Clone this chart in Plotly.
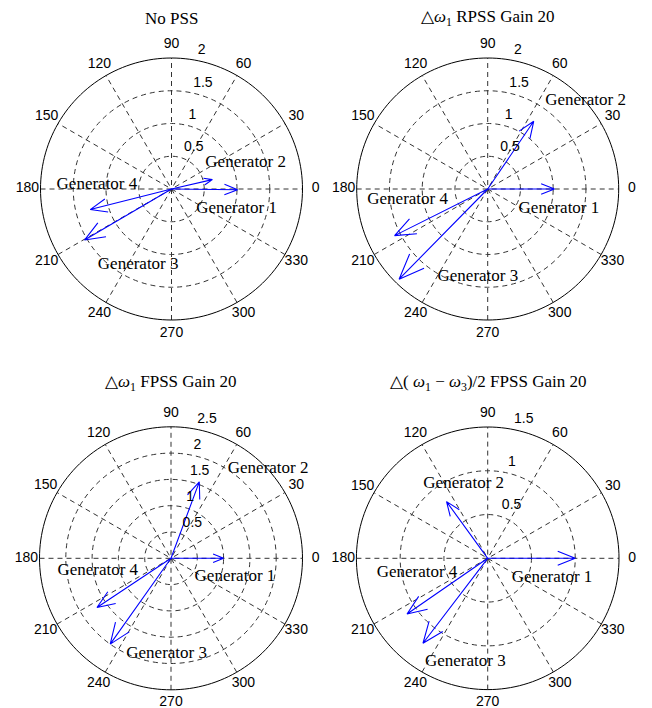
import plotly.graph_objects as go

# ---------------- data ----------------
generators = ["Generator 1", "Generator 2", "Generator 3", "Generator 4"]

titles = [
    "No PSS",
    "\u25b3<i>\u03c9</i><sub>1</sub> RPSS Gain 20",
    "\u25b3<i>\u03c9</i><sub>1</sub> FPSS Gain 20",
    "\u25b3( <i>\u03c9</i><sub>1</sub> \u2212 <i>\u03c9</i><sub>3</sub>)/2 FPSS Gain 20",
]

# magnitudes / angles (deg) of generator mode-shape vectors: G1, G2, G3, G4
nopss_mag = [1.01, 0.64, 1.54, 1.28]
nopss_ang = [359.4, 12.9, 210.4, 194.2]

rpss_mag = [1.02, 1.25, 1.93, 1.59]
rpss_ang = [0.0, 55.8, 225.5, 206.6]

fpss_mag = [1.00, 1.55, 2.00, 1.69]
fpss_ang = [0.0, 69.7, 234.7, 213.6]

diff_mag = [1.00, 0.80, 1.22, 1.12]
diff_ang = [0.0, 126.0, 232.7, 214.6]

rmax_list = [2.0, 2.0, 2.5, 1.5]
ring_ticks = [
    [0.5, 1, 1.5, 2],
    [0.5, 1, 1.5, 2],
    [0.5, 1, 1.5, 2, 2.5],
    [0.5, 1, 1.5],
]
ring_labels = [
    ["0.5", "1", "1.5", "2"],
    ["0.5", "1", "1.5", "2"],
    ["0.5", "1", "1.5", "2", "2.5"],
    ["0.5", "1", "1.5"],
]
angle_ticks = list(range(0, 360, 30))
angle_labels = [str(a) for a in angle_ticks]

# label anchor positions (r, theta) for generator names per panel
nopss_lab_r = [1.04, 1.20, 1.26, 1.14]
nopss_lab_t = [342.9, 19.3, 246.2, 176.7]
rpss_lab_r = [1.13, 2.01, 1.345, 1.233]
rpss_lab_t = [344.2, 42.0, 263.6, 187.6]
fpss_lab_r = [1.268, 2.517, 1.818, 1.412]
fpss_lab_t = [343.5, 42.8, 267.4, 189.5]
diff_lab_r = [0.766, 0.892, 1.207, 0.823]
diff_lab_t = [343.5, 107.9, 257.8, 191.2]

panels = [
    (nopss_mag, nopss_ang, nopss_lab_r, nopss_lab_t),
    (rpss_mag, rpss_ang, rpss_lab_r, rpss_lab_t),
    (fpss_mag, fpss_ang, fpss_lab_r, fpss_lab_t),
    (diff_mag, diff_ang, diff_lab_r, diff_lab_t),
]

# ---------------- layout geometry ----------------
W, H = 652, 708
PAGE = 8          # default body margin of the html page
EXT = 1.12        # radial range extends a bit beyond the outer circle for labels
centers = [(171.5, 189.0), (487.7, 189.0), (171.0, 558.3), (487.7, 558.3)]
radii = [131.0, 131.0, 131.5, 131.3]
title_y = [18, 18, 383, 383]

SERIF = "Times New Roman, Liberation Serif, serif"
SANS = "Arial, Liberation Sans, sans-serif"
GRID = "#333333"
DASH = "5px,4px"

fig = go.Figure()
layout_polars = {}
annotations = []

for i, (mag, ang, lab_r, lab_t) in enumerate(panels):
    pname = "polar" if i == 0 else f"polar{i+1}"
    sub = pname
    cx, cy = centers[i][0] - PAGE, centers[i][1] - PAGE
    rad = radii[i] * EXT
    rmax = rmax_list[i]
    ticks = ring_ticks[i]
    rinc = ticks[0]

    # spokes (diameters every 30 degrees), dashed
    sr, st = [], []
    for a in angle_ticks[:6]:
        sr += [rmax, 0, rmax, None]
        st += [a + 180, a, a, None]
    fig.add_trace(go.Scatterpolar(
        r=sr, theta=st, mode="lines",
        line=dict(color=GRID, width=1, dash=DASH),
        subplot=sub, showlegend=False, hoverinfo="skip",
    ))

    # outer solid circle
    circ_t = list(range(0, 361, 2))
    fig.add_trace(go.Scatterpolar(
        r=[rmax] * len(circ_t), theta=circ_t, mode="lines",
        line=dict(color="black", width=1),
        subplot=sub, showlegend=False, hoverinfo="skip",
    ))

    # arrows (MATLAB compass style)
    for g in range(4):
        L = mag[g]
        a = ang[g]
        hr = L * (0.8 ** 2 + 0.08 ** 2) ** 0.5
        hd = 5.71
        fig.add_trace(go.Scatterpolar(
            r=[0, L, hr, L, hr],
            theta=[a, a, a + hd, a, a - hd],
            mode="lines",
            line=dict(color="#0000ff", width=1.1),
            subplot=sub, showlegend=False, hoverinfo="skip",
        ))

    # generator labels
    fig.add_trace(go.Scatterpolar(
        r=lab_r, theta=lab_t, mode="text", text=generators,
        textposition="middle center",
        textfont=dict(family=SERIF, size=17, color="black"),
        subplot=sub, showlegend=False, hoverinfo="skip", cliponaxis=False,
    ))

    # radial ring labels at 82 degrees
    fig.add_trace(go.Scatterpolar(
        r=[t + rinc / 20 for t in ticks], theta=[82] * len(ticks),
        mode="text", text=["\u00a0\u00a0" + s for s in ring_labels[i]],
        textposition="top right",
        textfont=dict(family=SANS, size=14, color="black"),
        subplot=sub, showlegend=False, hoverinfo="skip", cliponaxis=False,
    ))

    # angular labels at 1.1 * rmax
    fig.add_trace(go.Scatterpolar(
        r=[1.1 * rmax] * len(angle_ticks), theta=angle_ticks,
        mode="text", text=angle_labels, textposition="middle center",
        textfont=dict(family=SANS, size=14, color="black"),
        subplot=sub, showlegend=False, hoverinfo="skip", cliponaxis=False,
    ))

    layout_polars[pname] = dict(
        domain=dict(
            x=[(cx - rad) / W, (cx + rad) / W],
            y=[1 - (cy + rad) / H, 1 - (cy - rad) / H],
        ),
        bgcolor="rgba(0,0,0,0)",
        radialaxis=dict(
            range=[0, EXT * rmax], tickmode="array", tickvals=ticks[:-1],
            showticklabels=False, ticks="", showline=False,
            showgrid=True, gridcolor=GRID, gridwidth=1, griddash=DASH,
        ),
        angularaxis=dict(
            direction="counterclockwise", rotation=0,
            showline=False, showgrid=False, showticklabels=False, ticks="",
        ),
    )

    annotations.append(dict(
        text=titles[i], x=cx / W, y=1 - (title_y[i] - PAGE) / H,
        xref="paper", yref="paper", xanchor="center", yanchor="middle",
        showarrow=False, font=dict(family=SERIF, size=17, color="black"),
    ))

fig.update_layout(
    width=W, height=H,
    margin=dict(l=0, r=0, t=0, b=0),
    paper_bgcolor="white", plot_bgcolor="white",
    showlegend=False,
    annotations=annotations,
    **layout_polars,
)

fig.write_html("out.html")
